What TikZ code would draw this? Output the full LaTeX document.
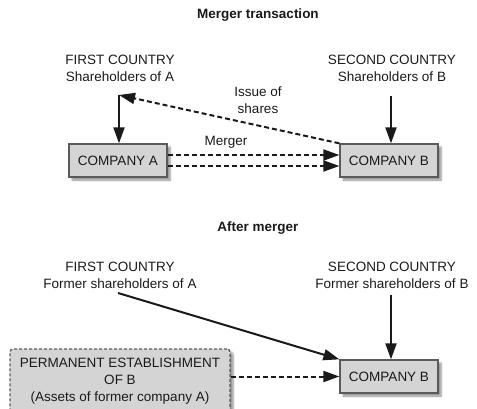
\documentclass[tikz,border=0pt]{standalone}
\usepackage{fontspec}
\setmainfont{Liberation Sans}
\usetikzlibrary{arrows.meta,shadows.blur}
\definecolor{boxfill}{HTML}{D4D4D4}
\definecolor{boxline}{HTML}{5A5A5A}
\definecolor{ink}{HTML}{1A1A1A}
\begin{document}
\begin{tikzpicture}[x=1pt,y=-1pt,
  txt/.style={font=\fontsize{13.5}{17}\selectfont, text=ink, align=center, inner sep=0pt},
  ttl/.style={font=\bfseries\fontsize{13.5}{16}\selectfont, text=ink, inner sep=0pt},
  cbox/.style={draw=boxline, line width=1.3pt, fill=boxfill, minimum width=98pt, minimum height=33pt, inner sep=0pt,
    font=\fontsize{13.5}{16}\selectfont, text=ink,
    blur shadow={shadow xshift=3pt, shadow yshift=-3pt, shadow blur steps=6, shadow opacity=45}},
  pebox/.style={draw=boxline, line width=1.3pt, dash pattern=on 3pt off 2pt, fill=boxfill, rounded corners=3pt,
    minimum width=220pt, minimum height=80pt, inner sep=0pt,
    blur shadow={shadow xshift=3pt, shadow yshift=-3pt, shadow blur steps=6, shadow opacity=45}},
  solidarr/.style={draw=ink, line width=2pt, -{Triangle[length=16pt,width=11pt]}},
  dasharr/.style={draw=ink, line width=2pt, dash pattern=on 5pt off 3pt, -{Triangle[length=16pt,width=11pt]}}
]
\useasboundingbox (0,0) rectangle (477,409);

% ---------- top part ----------
\node[ttl] (t1) at (258,15) {Merger transaction};
\node[txt] (fc1) at (120,68) {FIRST COUNTRY\\Shareholders of A};
\node[txt] (sc1) at (392,68) {SECOND COUNTRY\\Shareholders of B};
\node[cbox] (ca) at (118,160.5) {COMPANY A};
\node[cbox] (cb) at (389,160.5) {COMPANY B};
\coordinate (atop) at (119,95);
\coordinate (btop) at (391,96);

\draw[solidarr] (atop) -- (ca.north -| atop);
\draw[solidarr] (btop) -- (cb.north -| btop);
\draw[dasharr] ([yshift=-5.5pt]ca.east) -- ([yshift=-5.5pt]cb.west);
\draw[dasharr] ([yshift=5.5pt]ca.east) -- ([yshift=5.5pt]cb.west);
\draw[dasharr] (cb.north west) -- (atop);
\node[txt] (merger) at (226,142) {Merger};
\node[txt] (issue) at (258,100) {Issue of\\shares};

% ---------- bottom part ----------
\node[ttl] (t2) at (258,228) {After merger};
\node[txt] (fc2) at (120,275) {FIRST COUNTRY\\Former shareholders of A};
\node[txt] (sc2) at (392,275) {SECOND COUNTRY\\Former shareholders of B};
\node[pebox] (pe) at (120,389) {};
\node[txt, anchor=north] (petxt) at (120,358) {PERMANENT ESTABLISHMENT\\OF B\\(Assets of former company A)};
\node[cbox] (cb2) at (389,376.5) {COMPANY B};
\coordinate (fa2) at (118,293);
\coordinate (fb2) at (391,295);

\draw[solidarr] (fa2) -- (cb2.north west);
\draw[solidarr] (fb2) -- (cb2.north -| fb2);
\draw[dasharr] (pe.east |- cb2.west) -- (cb2.west);
\end{tikzpicture}
\end{document}
